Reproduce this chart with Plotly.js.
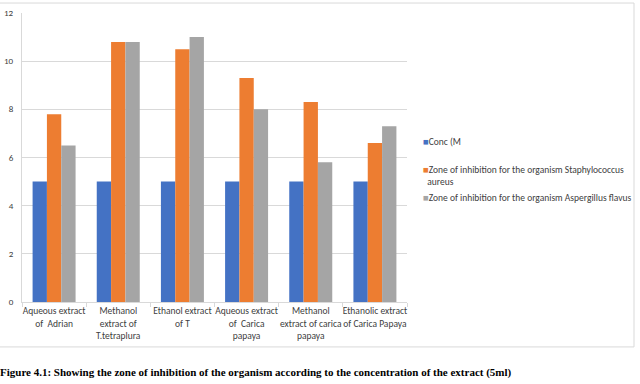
<!DOCTYPE html>
<html><head><meta charset="utf-8">
<script src="https://cdn.plot.ly/plotly-3.0.1.min.js"></script>
<style>html,body{margin:0;padding:0;background:#fff;}#chart{width:640px;height:384px;}</style>
</head><body><div id="chart"></div>
<script>
const categories = [
  "Aqueous extract<br>of  Adrian",
  "Methanol<br>extract of<br>T.tetraplura",
  "Ethanol extract<br>of T",
  "Aqueous extract<br>of  Carica<br>papaya",
  "Methanol<br>extract of carica<br>papaya",
  "Ethanolic extract<br>of Carica Papaya"
];
const seriesNames = [
  "Conc (M",
  "Zone of inhibition for the organism Staphylococcus<br>aureus",
  "Zone of inhibition for the organism Aspergillus flavus"
];
const concValues = [5, 5, 5, 5, 5, 5];
const staphValues = [7.8, 10.8, 10.5, 9.3, 8.3, 6.6];
const aspergValues = [6.5, 10.8, 11.0, 8.0, 5.8, 7.3];
const yTicks = [0, 2, 4, 6, 8, 10, 12];
const caption = "Figure 4.1: Showing the zone of inhibition of the organism according to the concentration of the extract (5ml)";

const colors = ["#4472C4", "#ED7D31", "#A5A5A5"];
const vals = [concValues, staphValues, aspergValues];
const traces = vals.map((v, i) => ({
  type: "bar", x: categories, y: v, name: seriesNames[i],
  marker: {color: colors[i]}, hoverinfo: "none", showlegend: false
}));

const L = 22, R = 407, T = 12.5, B = 302;
const pw = R - L, ph = B - T;
const px = x => (x - L) / pw;
const py = y => (B - y) / ph;

const FONT = "Carlito, Lato, 'Open Sans', sans-serif";
// legend drawn as text items (Excel-style small squares)
const legendY = [141.7, 175.5, 198];
const legendAnn = seriesNames.map((n, i) => ({
  text: "<span style='color:" + colors[i] + "'>\u25A0</span>" + n.replace("<br>", "<br>  "),
  xref: "paper", yref: "paper", x: px(421), y: py(legendY[i]),
  xanchor: "left", yanchor: "middle", align: "left", showarrow: false,
  font: {family: FONT, size: 9.5, color: "#404040"}
}));

const layout = {
  width: 640, height: 384,
  margin: {l: L, r: 640 - R, t: T, b: 384 - B, pad: 0},
  paper_bgcolor: "#fff", plot_bgcolor: "#fff",
  barmode: "group", bargap: 0.33, bargroupgap: 0,
  font: {family: FONT, size: 9, color: "#595959"},
  showlegend: false,
  xaxis: {
    type: "category", showgrid: false, showline: true, linecolor: "#d9d9d9", linewidth: 1,
    ticks: "outside", tickson: "boundaries", ticklen: 4, tickcolor: "#d9d9d9",
    tickangle: 0, automargin: false,
    tickfont: {family: FONT, size: 9.5, color: "#404040"}, zeroline: false
  },
  yaxis: {
    range: [0, 12], tickvals: yTicks, ticktext: yTicks.map(String),
    showgrid: true, gridcolor: "#d9d9d9", gridwidth: 1,
    showline: true, linecolor: "#d9d9d9", zeroline: false, automargin: false,
    ticks: "", tickfont: {family: FONT, size: 9, color: "#404040"}, ticklabelstandoff: 6
  },
  shapes: [{
    type: "rect", xref: "paper", yref: "paper",
    x0: px(-1), x1: px(634), y0: py(347), y1: py(2.5),
    line: {color: "#d9d9d9", width: 1}, fillcolor: "rgba(0,0,0,0)", layer: "below"
  }],
  annotations: legendAnn.concat([{
    text: "<b>" + caption + "</b>", xref: "paper", yref: "paper",
    x: px(-2), y: py(373), xanchor: "left", yanchor: "middle", showarrow: false,
    font: {family: "'Liberation Serif', 'Times New Roman', serif", size: 11, color: "#000"}
  }])
};
Plotly.newPlot("chart", traces, layout, {displayModeBar: false, staticPlot: true});
</script></body></html>
